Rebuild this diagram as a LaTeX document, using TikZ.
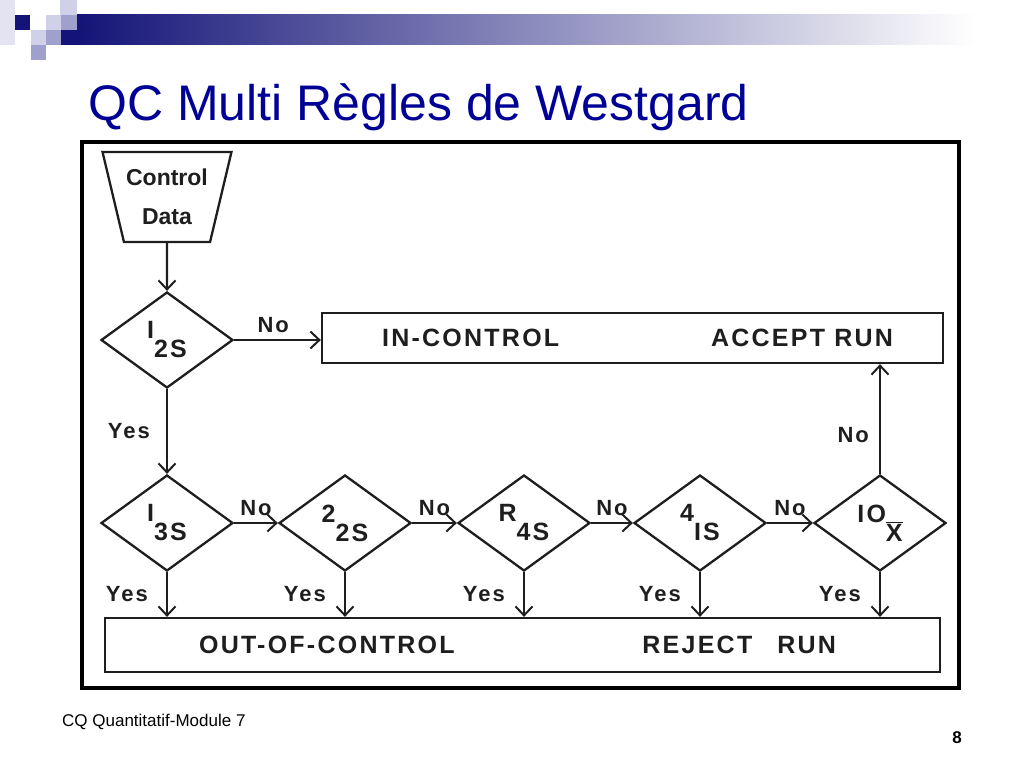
\documentclass[tikz,border=0pt]{standalone}
\usepackage{fontspec}
\setmainfont{Liberation Sans}
\newfontfamily\chartfont[LetterSpace=9]{Liberation Sans}
\usetikzlibrary{shapes.geometric,arrows.meta,positioning}
\definecolor{titleblue}{RGB}{0,0,150}
\definecolor{navy}{RGB}{20,20,120}
\definecolor{lightsq}{RGB}{208,208,232}
\definecolor{midsq}{RGB}{160,160,205}
\definecolor{ink}{RGB}{30,30,30}
\tikzset{
  decision/.style={diamond,draw=ink,line width=2.3pt,minimum width=132pt,minimum height=96pt,inner sep=0pt,text=ink,font=\chartfont\bfseries\fontsize{25}{25}\selectfont},
  outcome/.style={draw=ink,line width=2.3pt,inner sep=0pt},
  boxtext/.style={text=ink,font=\chartfont\bfseries\fontsize{25}{25}\selectfont,inner sep=0pt},
  flow/.style={draw=ink,line width=2.3pt,-{Straight Barb[length=9pt,width=17pt,line width=2pt]}},
  answer/.style={text=ink,font=\chartfont\bfseries\fontsize{22}{22}\selectfont,inner sep=2pt},
}
\newcommand{\qcrule}[2]{#1\raisebox{-19pt}{#2}}
\begin{document}
\begin{tikzpicture}[x=1pt,y=-1pt]
\useasboundingbox (0,0) rectangle (1024,768);
% slide header
\fill[lightsq!60] (0,0) rectangle (15,45);
\fill[navy] (15,15) rectangle (30,30);
\fill[lightsq] (60,0) rectangle (77,15);
\fill[lightsq] (46,15) rectangle (61,30);
\fill[midsq] (61,15) rectangle (77,30);
\fill[lightsq] (31,30) rectangle (46,45);
\fill[midsq] (46,30) rectangle (61,45);
\fill[navy] (61,30) rectangle (77,45);
\fill[midsq] (31,45) rectangle (46,60);
\shade[left color=navy,middle color={rgb,255:red,168;green,168;blue,192},right color=white] (77,15) rectangle (975,45);
\node[anchor=base west,inner sep=0pt,text=titleblue,font=\fontsize{50}{50}\selectfont] (title) at (88,120) {QC Multi Règles de Westgard};
% frame
\draw[line width=4pt] (82,142) rectangle (959,688);
% flowchart
\node[trapezium,draw=ink,line width=2.3pt,trapezium angle=70,shape border rotate=180,trapezium stretches=true,minimum width=129pt,minimum height=90pt,inner sep=0pt,align=center,text=ink,font=\bfseries\fontsize{23}{39}\selectfont] (data) at (167,197) {Control\\Data};
\node[decision] (d1) at (167,340) {\qcrule{I}{2S}};
\node[outcome,minimum width=621pt,minimum height=50pt] (inctrl) at (632.5,338) {};
\node[boxtext,anchor=west] (inlab) at ([xshift=61pt]inctrl.west) {IN-CONTROL};
\node[boxtext,anchor=east] (acclab) at ([xshift=-51pt]inctrl.east) {ACCEPT RUN};
\node[decision] (d2) at (167,523) {\qcrule{I}{3S}};
\node[decision] (d3) at (345,523) {\qcrule{2}{2S}};
\node[decision] (d4) at (524,523) {\qcrule{R}{4S}};
\node[decision] (d5) at (700,523) {\qcrule{4}{IS}};
\node[decision] (d6) at (880,523) {IO\raisebox{-19pt}{$\overline{\hbox{X}}$}};
\node[outcome,minimum width=835pt,minimum height=54pt] (outctrl) at (522.5,645) {};
\node[boxtext,anchor=west] (outlab) at ([xshift=95pt]outctrl.west) {OUT-OF-CONTROL};
\node[boxtext,anchor=east] (rejlab) at ([xshift=-105pt]outctrl.east) {REJECT\quad RUN};
\draw[flow] (data) -- (d1);
\draw[flow] (d1.east) -- node[answer,above=4pt,pos=0.45] {No} (inctrl.west |- d1.east);
\draw[flow] (d1) -- node[answer,left=14pt] {Yes} (d2);
\foreach \a/\b in {d2/d3,d3/d4,d4/d5,d5/d6}
  \draw[flow] (\a.east) -- node[answer,above=4pt] {No} (\b.west);
\foreach \d in {d2,d3,d4,d5,d6}
  \draw[flow] (\d.south) -- node[answer,left=16pt] {Yes} (\d.south |- outctrl.north);
\draw[flow] (d6.north) -- node[answer,left=8pt,pos=0.35] {No} (d6.north |- inctrl.south);
% footer
\node[anchor=base west,inner sep=0pt,font=\fontsize{17}{17}\selectfont] (foot) at (62,726) {CQ Quantitatif-Module 7};
\node[anchor=base,inner sep=0pt,font=\bfseries\fontsize{17}{17}\selectfont] (page) at (957,743) {8};
\end{tikzpicture}
\end{document}
